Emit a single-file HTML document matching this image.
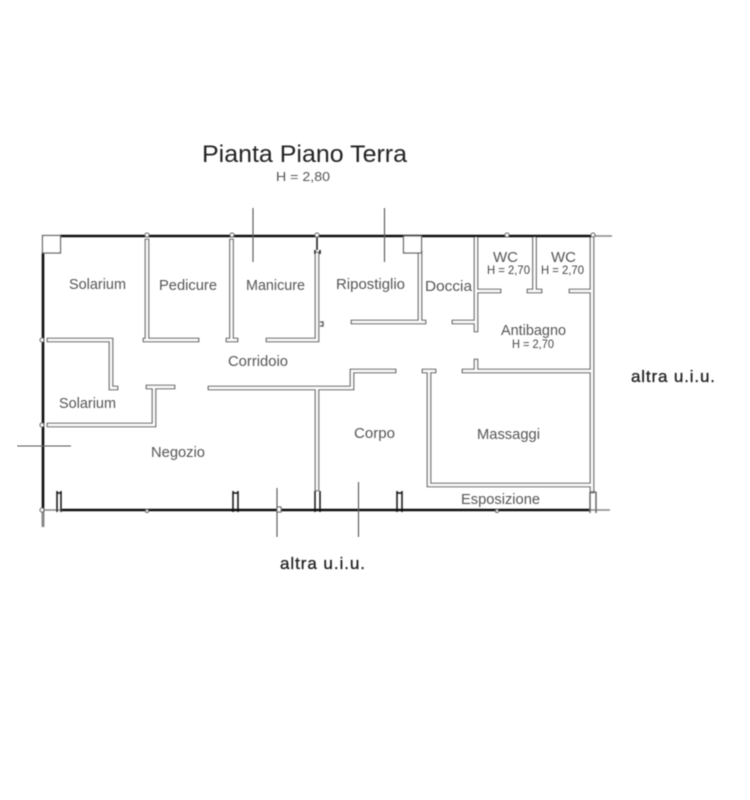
<!DOCTYPE html>
<html><head><meta charset="utf-8"><style>
html,body{margin:0;padding:0;background:#fff;width:750px;height:800px;overflow:hidden}
svg{display:block}
text{font-family:"Liberation Sans",sans-serif}
.l{fill:#555;font-size:14.500px}
.s{fill:#444;font-size:12px}
.a{fill:#222;font-size:17px;stroke:#222;stroke-width:.3}
.wo{fill:none;stroke:#555;stroke-width:4.600;stroke-linecap:square;stroke-linejoin:miter}
.wi{fill:none;stroke:#fff;stroke-width:2.400;stroke-linecap:square;stroke-linejoin:miter}
</style></head><body>
<svg width="750" height="800" viewBox="0 0 750 800" xmlns="http://www.w3.org/2000/svg">
<defs>
<filter id="b" x="0" y="0" width="100%" height="100%"><feGaussianBlur stdDeviation="0.4"/></filter>
<path id="walls" d="M49 340H111V388H116
M147 241V340M145 340H197
M231.500 241V340M228 340H236
M317 254V340H268
M420 253V322H353M420 322H424
M476 238V330M476 322H454M476 291H499
M534.500 238V291M529 291H540
M592 238V491M592 291H571
M592 371H464M476 371V361
M394 371H352V388H210
M317 388V489
M424 371H434M429 371V485H592
M173 387H148M154 387V425H49"/>
</defs>
<rect width="750" height="800" fill="#fff"/>
<g filter="url(#b)">
<use href="#walls" class="wo"/>
<use href="#walls" class="wi"/>
<!-- thick outer walls -->
<g stroke="#111" stroke-width="2.600" fill="none">
<path d="M60 236H592"/>
<path d="M43 253V510"/>
<path d="M62 510H590"/>
</g>
<g stroke="#888" stroke-width="1.500" fill="none">
<path d="M592 236H612"/>
<path d="M590 510H610"/>
<path d="M43 510V527" stroke-width="3"/>
<path d="M43 510H62"/>
<path d="M590 492V513M596 492V513M590 492H596" stroke="#666"/>
<path d="M320 322H323V326H320" stroke="#666"/>
</g>
<!-- corner squares -->
<g fill="#fff" stroke="#555" stroke-width="1.200">
<rect x="42.500" y="235.500" width="18" height="17.500"/>
<rect x="403.500" y="236" width="18" height="17"/>
</g>
<!-- small details -->
<g fill="none" stroke="#111" stroke-width="1.500">
<path d="M317 237V250"/>
<path d="M315 250V254M320 250V254"/>
<path d="M61 491V512M57 491V512M57 493H61"/>
<path d="M233 491V512M238 491V512M233 493H238"/>
<path d="M315 491V512M320 491V512"/>
<path d="M397 491V512M402 491V512M397 493H402"/>
</g>
<g fill="#fff" stroke="#555" stroke-width="1.100">
<circle cx="147" cy="235" r="2"/>
<circle cx="232" cy="235" r="2"/>
<circle cx="317" cy="235" r="2"/>
<circle cx="507" cy="235" r="2"/>
<circle cx="593" cy="235" r="2"/>
<circle cx="42" cy="340" r="2"/>
<circle cx="42" cy="425" r="2"/>
<circle cx="42" cy="510" r="2"/>
<circle cx="147" cy="511" r="1.500"/>
<circle cx="497" cy="511" r="1.500"/>
<rect x="277" y="507" width="4" height="5"/>
</g>
<!-- section marks -->
<g stroke="#555" stroke-width="1.100" fill="none">
<path d="M253 208V262"/>
<path d="M384.500 208V262"/>
<path d="M17 446H71"/>
<path d="M277 488V537"/>
<path d="M358.500 482V537"/>
</g>
<!-- text -->
<text x="202" y="162" font-size="24.500" fill="#222" textLength="205" lengthAdjust="spacingAndGlyphs">Pianta Piano Terra</text>
<text x="276" y="181" font-size="13" fill="#555" textLength="54" lengthAdjust="spacingAndGlyphs">H = 2,80</text>
<text class="l" x="69" y="289" textLength="57" lengthAdjust="spacingAndGlyphs">Solarium</text>
<text class="l" x="159" y="290" textLength="58" lengthAdjust="spacingAndGlyphs">Pedicure</text>
<text class="l" x="246" y="290" textLength="59" lengthAdjust="spacingAndGlyphs">Manicure</text>
<text class="l" x="336" y="289" textLength="69" lengthAdjust="spacingAndGlyphs">Ripostiglio</text>
<text class="l" x="425" y="291" textLength="47" lengthAdjust="spacingAndGlyphs">Doccia</text>
<text class="l" x="228" y="366" textLength="60" lengthAdjust="spacingAndGlyphs">Corridoio</text>
<text class="l" x="59" y="408" textLength="57" lengthAdjust="spacingAndGlyphs">Solarium</text>
<text class="l" x="151" y="457" textLength="54" lengthAdjust="spacingAndGlyphs">Negozio</text>
<text class="l" x="354" y="438" textLength="41" lengthAdjust="spacingAndGlyphs">Corpo</text>
<text class="l" x="477" y="439" textLength="63" lengthAdjust="spacingAndGlyphs">Massaggi</text>
<text class="l" x="461" y="504" textLength="79" lengthAdjust="spacingAndGlyphs">Esposizione</text>
<text class="l" x="501" y="335" textLength="65" lengthAdjust="spacingAndGlyphs">Antibagno</text>
<text class="s" x="512" y="348" textLength="42" lengthAdjust="spacingAndGlyphs">H = 2,70</text>
<text class="l" x="493" y="262" textLength="25" lengthAdjust="spacingAndGlyphs">WC</text>
<text class="s" x="487" y="274" textLength="43" lengthAdjust="spacingAndGlyphs">H = 2,70</text>
<text class="l" x="551" y="262" textLength="25" lengthAdjust="spacingAndGlyphs">WC</text>
<text class="s" x="541" y="274" textLength="43" lengthAdjust="spacingAndGlyphs">H = 2,70</text>
<text class="a" x="280" y="569" textLength="85" lengthAdjust="spacing">altra u.i.u.</text>
<text class="a" x="631" y="382" textLength="84" lengthAdjust="spacing">altra u.i.u.</text>
</g>
</svg>
</body></html>
